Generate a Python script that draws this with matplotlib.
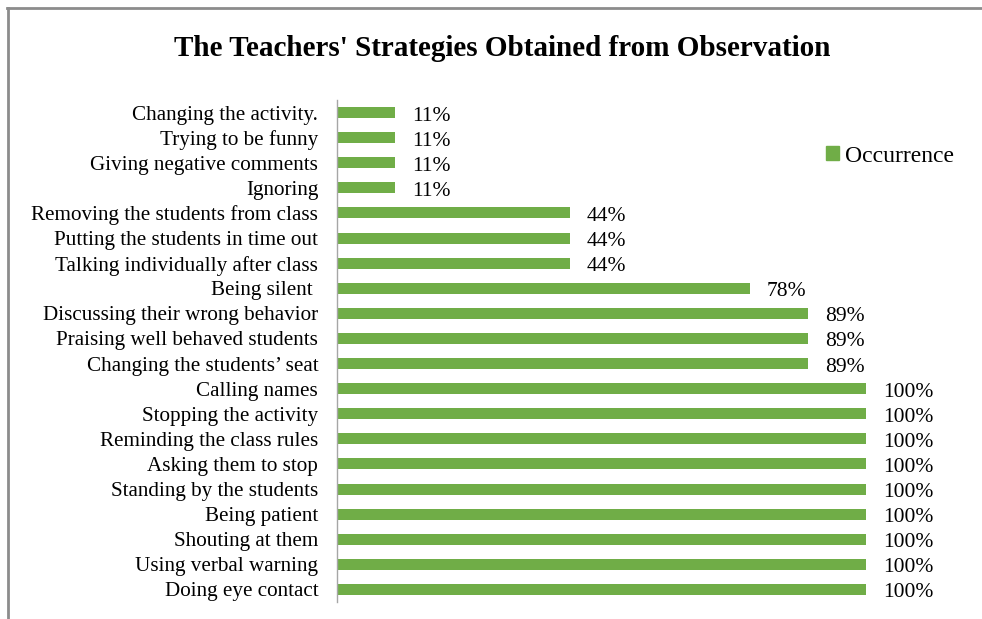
import matplotlib.pyplot as plt
from matplotlib.patches import Rectangle
from matplotlib.lines import Line2D

plt.rcParams['font.family'] = ['Liberation Serif', 'DejaVu Serif']

# strategies listed bottom to top, with their observed occurrence (%)
strategies = [
    "Doing eye contact",
    "Using verbal warning",
    "Shouting at them",
    "Being patient",
    "Standing by the students",
    "Asking them to stop",
    "Reminding the class rules",
    "Stopping the activity",
    "Calling names",
    "Changing the students\u2019 seat",
    "Praising well behaved students",
    "Discussing their wrong behavior",
    "Being silent ",
    "Talking individually after class",
    "Putting the students in time out",
    "Removing the students from class",
    "Ignoring",
    "Giving negative comments",
    "Trying to be funny",
    "Changing the activity.",
]
occurrence = [100, 100, 100, 100, 100, 100, 100, 100, 100,
              89, 89, 89, 78, 44, 44, 44, 11, 11, 11, 11]

bar_color = "#70AD47"

fig = plt.figure(figsize=(9.82, 6.19), dpi=100)

# outer frame lines (top and left edge of the chart area)
fig.add_artist(Line2D([7 / 982, 1.0], [1 - 8 / 619, 1 - 8 / 619],
                      transform=fig.transFigure, color="#8C8C8C", lw=2))
fig.add_artist(Line2D([8 / 982, 8 / 982], [0.0, 1 - 8 / 619],
                      transform=fig.transFigure, color="#8C8C8C", lw=2))

ax = fig.add_axes([337 / 982, 1 - 602 / 619, 529 / 982, 502 / 619])

y = list(range(len(strategies)))
bars = ax.barh(y, occurrence, height=0.44, color=bar_color, label="Occurrence")

for rect, val in zip(bars, occurrence):
    ax.annotate(f"{val}%", (rect.get_width(), rect.get_y() + rect.get_height() / 2),
                xytext=(17, -1), textcoords="offset pixels",
                va="center_baseline", ha="left", fontsize=15.5)

ax.set_xlim(0, 100)
ax.set_ylim(-0.5, len(strategies) - 0.5)
ax.set_yticks(y)
ax.set_yticklabels(strategies, fontsize=15.2, va="center_baseline")
ax.tick_params(axis="y", length=0, pad=13.5)
ax.set_xticks([])
for side in ["top", "right", "bottom"]:
    ax.spines[side].set_visible(False)
ax.spines["left"].set_color("#A6A6A6")
ax.spines["left"].set_linewidth(1)

fig.text(502 / 982, 1 - 48 / 619, "The Teachers' Strategies Obtained from Observation",
         ha="center", va="center", fontsize=21, fontweight="bold")

fig.legend(handles=[Rectangle((0, 0), 1, 1, color=bar_color)], labels=["Occurrence"],
           loc="center left", bbox_to_anchor=(826 / 982, 1 - 156 / 619),
           frameon=False, fontsize=17, handlelength=0.55, handleheight=0.55,
           handletextpad=0.25, borderpad=0, borderaxespad=0)

fig.savefig("out.png", dpi=100)
